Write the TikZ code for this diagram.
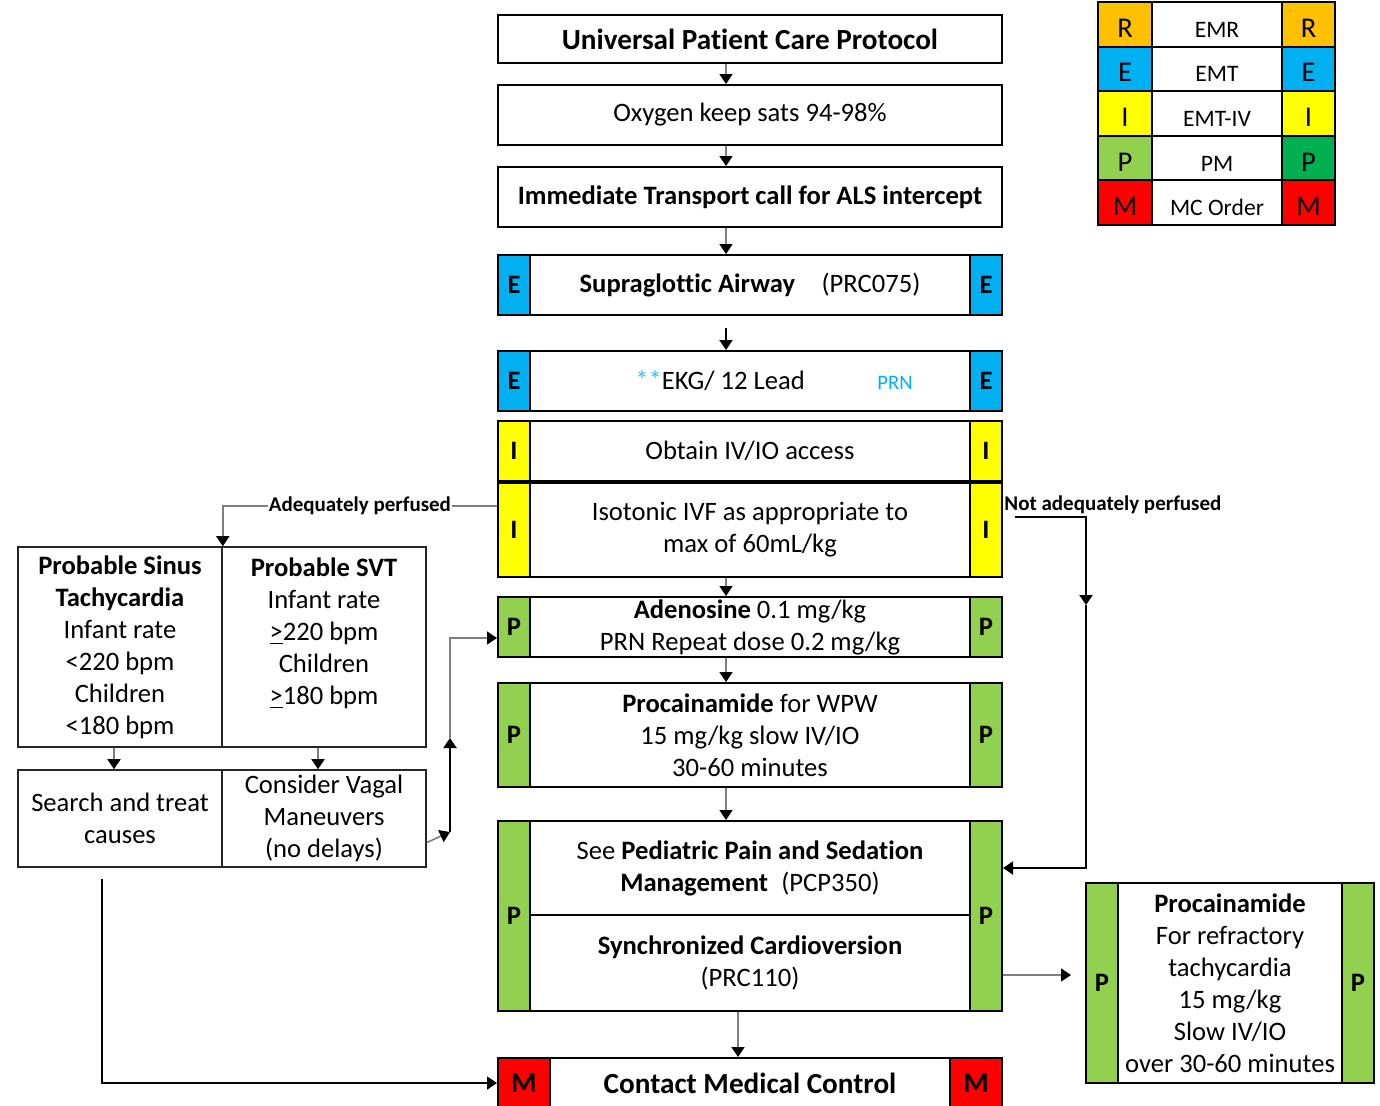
\documentclass[tikz,border=0pt]{standalone}
\usepackage{fontspec}
\setmainfont{Carlito}[Ligatures=NoCommon]
\usetikzlibrary{arrows.meta, positioning, calc}

\definecolor{cR}{HTML}{FFC000}
\definecolor{cE}{HTML}{00B0F0}
\definecolor{cI}{HTML}{FFFF00}
\definecolor{cP}{HTML}{92D050}
\definecolor{cPd}{HTML}{00B050}
\definecolor{cM}{HTML}{FF0000}
\definecolor{lineg}{HTML}{7F7F7F}

\begin{document}
\begin{tikzpicture}[x=0.5pt, y=-0.5pt,
        every node/.style={font=\fontsize{13.3}{16}\selectfont},
        mainbox/.style={draw, line width=1pt, fill=white, minimum width=252pt, align=center, inner sep=0pt},
        sidebox/.style={draw=black!85, line width=0.8pt, fill=white, minimum width=102pt, align=center, inner sep=0pt},
        title/.style={font=\fontsize{14.6}{17}\selectfont\bfseries},
        bar/.style={draw, line width=1pt, minimum width=16pt, inner sep=0pt, font=\fontsize{13.3}{16}\selectfont\bfseries},
        key/.style={draw, line width=1pt, minimum height=22.3pt, inner sep=0pt, text height=13pt, text depth=0pt, font=\fontsize{11.8}{14}\selectfont},
        keyltr/.style={key, font=\fontsize{14.3}{16}\selectfont},
        lbl/.style={font=\fontsize{10.5}{12}\selectfont\bfseries, inner sep=0.5pt},
        arrow/.style={-{Triangle[length=5pt, width=6.5pt, color=black]}, line width=0.8pt, draw=lineg},
        barrow/.style={-{Triangle[length=5pt, width=6.5pt]}, line width=1pt, draw=black}
    ]
        \fill[white] (0,0) rectangle (1380,1105);
        \useasboundingbox (0,0) rectangle (1380,1105);

        % --- legend (top right) ---
        \node[keyltr, fill=cR, minimum width=27pt] (kR1) at (1125,24.3) {R};
        \node[key, fill=white, minimum width=65pt] (kR2) at (1217,24.3) {EMR};
        \node[keyltr, fill=cR, minimum width=26.5pt] (kR3) at (1308.5,24.3) {R};
        \node[keyltr, fill=cE, minimum width=27pt] (kE1) at (1125,68.9) {E};
        \node[key, fill=white, minimum width=65pt] (kE2) at (1217,68.9) {EMT};
        \node[keyltr, fill=cE, minimum width=26.5pt] (kE3) at (1308.5,68.9) {E};
        \node[keyltr, fill=cI, minimum width=27pt] (kI1) at (1125,113.5) {I};
        \node[key, fill=white, minimum width=65pt] (kI2) at (1217,113.5) {EMT-IV};
        \node[keyltr, fill=cI, minimum width=26.5pt] (kI3) at (1308.5,113.5) {I};
        \node[keyltr, fill=cP, minimum width=27pt] (kP1) at (1125,158.1) {P};
        \node[key, fill=white, minimum width=65pt] (kP2) at (1217,158.1) {PM};
        \node[keyltr, fill=cPd, minimum width=26.5pt] (kP3) at (1308.5,158.1) {P};
        \node[keyltr, fill=cM, minimum width=27pt] (kM1) at (1125,202.7) {M};
        \node[key, fill=white, minimum width=65pt] (kM2) at (1217,202.7) {MC Order};
        \node[keyltr, fill=cM, minimum width=26.5pt] (kM3) at (1308.5,202.7) {M};

        % --- main column ---
        \node[mainbox, title, minimum height=24pt] (upc) at (750,39) {Universal Patient Care Protocol};
        \node[mainbox, minimum height=30pt] (oxy) at (750,115) {Oxygen keep sats 94-98\%};
        \node[mainbox, minimum height=30pt, font=\fontsize{13.3}{16}\selectfont\bfseries] (imm) at (750,197) {Immediate Transport call for ALS intercept};

        \node[mainbox, minimum height=30pt] (sga) at (750,285) {\textbf{Supraglottic Airway}\quad(PRC075)};
        \node[bar, fill=cE, minimum height=30pt] (sgaL) at (514,285) {E};
        \node[bar, fill=cE, minimum height=30pt] (sgaR) at (986,285) {E};

        \node[mainbox, minimum height=30pt] (ekg) at (750,381) {};
        \node (ekgtxt) at (720,381) {\textcolor{cE!80!white}{**}EKG/ 12 Lead};
        \node[font=\fontsize{10.3}{12}\selectfont, text=cE] (ekgprn) at (895,383) {PRN};
        \node[bar, fill=cE, minimum height=30pt] (ekgL) at (514,381) {E};
        \node[bar, fill=cE, minimum height=30pt] (ekgR) at (986,381) {E};

        \node[mainbox, minimum height=30pt] (iv) at (750,451) {Obtain IV/IO access};
        \node[bar, fill=cI, minimum height=30pt] (ivL) at (514,451) {I};
        \node[bar, fill=cI, minimum height=30pt] (ivR) at (986,451) {I};

        \node[mainbox, minimum height=47pt] (ivf) at (750,530) {Isotonic IVF as appropriate to\\max of 60mL/kg};
        \node[bar, fill=cI, minimum height=47pt] (ivfL) at (514,530) {I};
        \node[bar, fill=cI, minimum height=47pt] (ivfR) at (986,530) {I};

        \node[mainbox, minimum height=30pt] (ade) at (750,627) {\textbf{Adenosine} 0.1 mg/kg\\PRN Repeat dose 0.2 mg/kg};
        \node[bar, fill=cP, minimum height=30pt] (adeL) at (514,627) {P};
        \node[bar, fill=cP, minimum height=30pt] (adeR) at (986,627) {P};

        \node[mainbox, minimum height=52pt] (proc) at (750,735) {\textbf{Procainamide} for WPW\\15 mg/kg slow IV/IO\\30-60 minutes};
        \node[bar, fill=cP, minimum height=52pt] (procL) at (514,735) {P};
        \node[bar, fill=cP, minimum height=52pt] (procR) at (986,735) {P};

        \node[mainbox, minimum height=47pt] (sed) at (750,868) {See \textbf{Pediatric Pain and Sedation}\\\textbf{Management}\enspace(PCP350)};
        \node[mainbox, minimum height=48pt] (cardio) at (750,963) {\textbf{Synchronized Cardioversion}\\(PRC110)};
        \node[bar, fill=cP, minimum height=95pt] (cvL) at (514,916) {P};
        \node[bar, fill=cP, minimum height=95pt] (cvR) at (986,916) {P};

        \node[mainbox, title, minimum height=25pt] (mc) at (750,1083) {Contact Medical Control};
        \node[bar, title, fill=cM, minimum width=26pt, minimum height=25pt] (mcL) at (524,1083) {M};
        \node[bar, title, fill=cM, minimum width=26pt, minimum height=25pt] (mcR) at (976,1083) {M};

        % --- refractory branch (right) ---
        \node[mainbox, minimum width=144pt, minimum height=100pt] (rproc) at (1230,983) {\textbf{Procainamide}\\For refractory\\tachycardia\\15 mg/kg\\Slow IV/IO\\over 30-60 minutes};
        \node[bar, fill=cP, minimum height=100pt] (rprocL) at (1102,983) {P};
        \node[bar, fill=cP, minimum height=100pt] (rprocR) at (1358,983) {P};

        % --- adequately perfused branch (left) ---
        \node[sidebox, minimum height=100pt] (sinus) at (120,647) {\textbf{Probable Sinus}\\\textbf{Tachycardia}\\Infant rate\\<220 bpm\\Children\\<180 bpm};
        \node[sidebox, minimum height=100pt] (svt) at (324,647) {\textbf{Probable SVT}\\Infant rate\\\underline{>}220 bpm\\Children\\\underline{>}180 bpm\\~};
        \node[sidebox, minimum height=48.5pt] (search) at (120,818.5) {Search and treat\\causes};
        \node[sidebox, minimum height=48.5pt] (vagal) at (324,818.5) {Consider Vagal\\Maneuvers\\(no delays)};

        % --- main flow arrows ---
        \coordinate (spine) at (726,0);
        \draw[arrow] (upc.south -| spine) -- (oxy.north -| spine);
        \draw[arrow] (oxy.south -| spine) -- (imm.north -| spine);
        \draw[arrow] (imm.south -| spine) -- (sga.north -| spine);
        \draw[barrow] ($(sga.south -| spine)+(0,-6pt)$) -- (ekg.north -| spine);
        \draw[arrow] (ivf.south -| spine) -- (ade.north -| spine);
        \draw[arrow] (ade.south -| spine) -- (proc.north -| spine);
        \draw[arrow] (proc.south -| spine) -- (sed.north -| spine);
        \draw[arrow] ([xshift=-6pt]cardio.south) -- ([xshift=-6pt]mc.north);

        \coordinate (cvout) at ($(cardio.east)+(0,-6pt)$);
        \coordinate (rpin) at ($(rproc.west)+(-7pt,0)$);
        \draw[arrow] (cvout) -- (cvout -| rpin);

        % --- adequately perfused ---
        \draw[arrow] ([yshift=-12pt]ivf.north west) -| (sinus.north east) node[pos=0.25, lbl, fill=white] (adqlbl) {Adequately perfused};
        \draw[arrow] ([xshift=-3pt]sinus.south) -- ([xshift=-3pt]search.north);
        \draw[arrow] ([xshift=-3pt]svt.south) -- ([xshift=-3pt]vagal.north);

        \coordinate (vgA) at (450,832);
        \coordinate (vgB) at (450,738);
        \draw[arrow] ([yshift=-12pt]vagal.east) -- (vgA);
        \draw[barrow] (vgA) -- (vgB);
        \draw[arrow] (vgB) |- ([yshift=-5.5pt]ade.west);

        \draw[barrow] ($(search.south)+(-9pt,-5.5pt)$) |- (mc.west);

        % --- not adequately perfused ---
        \node[lbl, anchor=west] (naplbl) at (1003,505) {Not adequately perfused};
        \coordinate (napA) at ($(ivf.north east)+(6pt,-17.5pt)$);
        \coordinate (napB) at (1086,605);
        \draw[barrow] (napA) -| (napB);
        \draw[barrow] (napB) |- (sed.east);
\end{tikzpicture}
\end{document}
